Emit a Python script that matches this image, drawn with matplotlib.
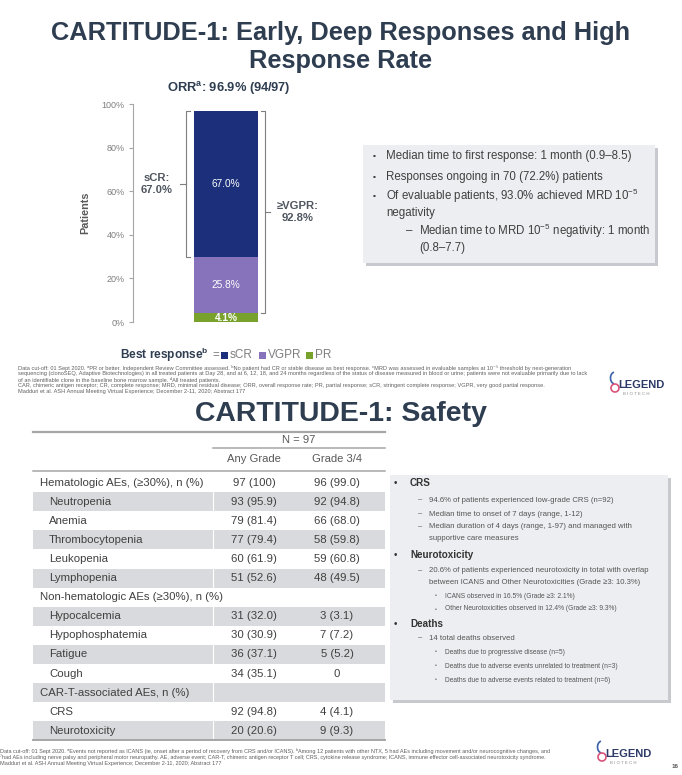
import matplotlib
matplotlib.use("Agg")
import matplotlib.pyplot as plt
from matplotlib.patches import Rectangle, Arc

plt.rcParams['font.family'] = ['Liberation Sans', 'DejaVu Sans']
plt.rcParams['mathtext.fontset'] = 'custom'
plt.rcParams['mathtext.rm'] = 'Liberation Sans'
plt.rcParams['mathtext.bf'] = 'Liberation Sans:bold'
plt.rcParams['mathtext.it'] = 'Liberation Sans:italic'

# ---------------- data ----------------
response_names = ["PR", "VGPR", "sCR"]          # stacked bottom -> top
response_pct = [4.1, 25.8, 67.0]
orr_pct = 96.9
orr_n = 94
n_total = 97
y_ticks = [0, 20, 40, 60, 80, 100]

ae_labels = ["Hematologic AEs, (≥30%), n (%)", "Neutropenia", "Anemia",
             "Thrombocytopenia", "Leukopenia", "Lymphopenia",
             "Non-hematologic AEs (≥30%), n (%)", "Hypocalcemia",
             "Hypophosphatemia", "Fatigue", "Cough",
             "CAR-T-associated AEs, n (%)", "CRS", "Neurotoxicity"]
ae_is_group = [True, False, False, False, False, False, True, False, False,
               False, False, True, False, False]
any_n = [97, 93, 79, 77, 60, 51, None, 31, 30, 36, 34, None, 92, 20]
any_pct = [100, 95.9, 81.4, 79.4, 61.9, 52.6, None, 32.0, 30.9, 37.1, 35.1, None, 94.8, 20.6]
g34_n = [96, 92, 66, 58, 59, 48, None, 3, 7, 5, 0, None, 4, 9]
g34_pct = [99.0, 94.8, 68.0, 59.8, 60.8, 49.5, None, 3.1, 7.2, 5.2, None, None, 4.1, 9.3]
col_headers = ["Any Grade", "Grade 3/4"]

# ---------------- styles ----------------
seg_colors = {"sCR": "#1b2f7b", "VGPR": "#8673bb", "PR": "#78a22c"}
TITLE = "#2e3d50"
DARK = "#404040"
GRAY = "#7f7f7f"
BOXF = "#eceef1"
SHADE = "#d9dadd"

fig = plt.figure(figsize=(6.82, 7.75), dpi=100)
bg = fig.add_axes([0, 0, 1, 1])
bg.set_xlim(0, 682)
bg.set_ylim(775, 0)
bg.axis('off')

def T(x, y, s, **kw):
    kw.setdefault('va', 'center')
    kw.setdefault('color', DARK)
    return bg.text(x, y, s, **kw)

# ---------------- slide 1 ----------------
T(341, 33, "CARTITUDE-1: Early, Deep Responses and High", ha='center',
  fontsize=18.3, fontweight='bold', color=TITLE)
T(341, 61, "Response Rate", ha='center', fontsize=18.3, fontweight='bold', color=TITLE)
T(229, 89, r"ORR$^{\mathbf{a}}$: " + f"{orr_pct:.1f}% ({orr_n}/{n_total})",
  ha='center', fontsize=9.3, fontweight='bold', color=TITLE)
T(85, 213, "Patients", ha='center', rotation=90, fontsize=7.8,
  fontweight='bold', color="#595959")

ax = fig.add_axes([133 / 682, 1 - 322 / 775, 187 / 682, 218 / 775])
ax.patch.set_alpha(0)
ax.set_xlim(0, 1)
ax.set_ylim(0, 100)
for s in ['top', 'right', 'bottom']:
    ax.spines[s].set_visible(False)
ax.spines['left'].set_color('#a6a6a6')
ax.spines['left'].set_linewidth(0.8)
ax.set_xticks([])
ax.set_yticks(y_ticks)
ax.set_yticklabels([f"{t}%" for t in y_ticks])
ax.tick_params(axis='y', direction='out', length=3, width=0.8, color='#a6a6a6',
               labelcolor=GRAY, labelsize=6.5, pad=3)

bar_x, bar_w = 0.497, 0.342
bottom = 0.0
bounds = {}
for name, v in zip(response_names, response_pct):
    ax.bar(bar_x, v, width=bar_w, bottom=bottom, color=seg_colors[name], linewidth=0)
    ax.text(bar_x, bottom + v / 2, f"{v:.1f}%", ha='center', va='center',
            color='white', fontsize=7.3, fontweight='bold' if name == "PR" else 'normal')
    bounds[name] = (bottom, bottom + v)
    bottom += v
top = bottom
bc = '#7f7f7f'
# left bracket (sCR)
lb, lt = bounds["sCR"]
xl = 0.282
ax.plot([0.303, xl, xl, 0.303], [lt, lt, lb, lb], color=bc, lw=0.8, clip_on=False)
ax.plot([xl, 0.250], [(lt + lb) / 2] * 2, color=bc, lw=0.8, clip_on=False)
ax.text(0.128, (lt + lb) / 2, f"sCR:\n{bounds['sCR'][1]-bounds['sCR'][0]:.1f}%",
        ha='center', va='center', fontsize=8.1, fontweight='bold', color="#4f5660",
        linespacing=1.25)
# right bracket (>=VGPR)
rb, rt = bounds["VGPR"][0], top
xr = 0.706
ax.plot([0.684, xr, xr, 0.684], [rt, rt, rb, rb], color=bc, lw=0.8, clip_on=False)
ax.plot([xr, 0.733], [(rt + rb) / 2] * 2, color=bc, lw=0.8, clip_on=False)
vg = response_pct[1] + response_pct[2]
ax.text(0.882, (rt + rb) / 2, f"≥VGPR:\n{vg:.1f}%", ha='center', va='center',
        fontsize=8.1, fontweight='bold', color="#4f5660", linespacing=1.25)

# legend line
ly = 355
T(120, ly, r"Best response$^{\mathbf{b}}$", fontsize=8.6, fontweight='bold', color=TITLE)
T(212, ly, "=", fontsize=8.3, color=GRAY)
lx = 221
for name in ["sCR", "VGPR", "PR"]:
    bg.add_patch(Rectangle((lx, ly - 3.5), 7, 7, color=seg_colors[name], lw=0))
    T(lx + 9, ly, name, fontsize=8.5, color=GRAY)
    lx += 9 + {"sCR": 29, "VGPR": 38, "PR": 20}[name]

# info box 1
bg.add_patch(Rectangle((366, 148), 292, 118, color='#b9bcc2', lw=0, alpha=0.8))
bg.add_patch(Rectangle((363, 145), 292, 118, color=BOXF, lw=0))
bs = 8.3
for yy in (156, 177, 196):
    T(373, yy, "▪", fontsize=6, color=DARK)
T(386, 156, "Median time to first response: 1 month (0.9–8.5)", fontsize=bs)
T(386, 177, "Responses ongoing in 70 (72.2%) patients", fontsize=bs)
T(386, 196, r"Of evaluable patients, 93.0% achieved MRD 10$^{-5}$", fontsize=bs)
T(386, 213, "negativity", fontsize=bs)
T(406, 231, "–", fontsize=bs)
T(419, 231, r"Median time to MRD 10$^{-5}$ negativity: 1 month", fontsize=bs)
T(419, 248, "(0.8–7.7)", fontsize=bs)

fn1 = ["Data cut-off: 01 Sept 2020. ᵃPR or better. Independent Review Committee assessed. ᵇNo patient had CR or stable disease as best response. ᶜMRD was assessed in evaluable samples at 10⁻⁵ threshold by next-generation",
       "sequencing (clonoSEQ, Adaptive Biotechnologies) in all treated patients at Day 28, and at 6, 12, 18, and 24 months regardless of the status of disease measured in blood or urine; patients were not evaluable primarily due to lack",
       "of an identifiable clone in the baseline bone marrow sample. ᵈAll treated patients.",
       "CAR, chimeric antigen receptor; CR, complete response; MRD, minimal residual disease; ORR, overall response rate; PR, partial response; sCR, stringent complete response; VGPR, very good partial response.",
       "Madduri et al. ASH Annual Meeting Virtual Experience; December 2-11, 2020; Abstract 177"]
for i, line in enumerate(fn1):
    T(18, 368 + 6 * i, line, fontsize=4.1, color='#606060')

def logo(x, y):
    bg.add_patch(Arc((x + 5, y - 6), 9, 12, theta1=100, theta2=260, color='#3b5fa8', lw=1.2))
    bg.add_patch(Arc((x + 5, y + 4), 8, 8, theta1=0, theta2=360, color='#d9537a', lw=1.2))
    T(x + 8, y + 1, "LEGEND", fontsize=8, fontweight='bold', color='#2b3a67')
    T(x + 13, y + 10, "B I O T E C H", fontsize=3.2, color='#8a8a8a')

logo(610, 384)

# ---------------- slide 2 ----------------
T(341, 414, "CARTITUDE-1: Safety", ha='center', fontsize=20.4, fontweight='bold', color=TITLE)

tx0, tx1 = 33, 385
c1, c2 = 254, 337
bg.plot([tx0, tx1], [432, 432], color='#a6a6a6', lw=1.6)
T((213 + tx1) / 2, 440, f"N = {n_total}", ha='center', fontsize=8.1, color='#595959')
bg.plot([213, tx1], [447.5, 447.5], color='#a6a6a6', lw=1.1)
T(c1, 459, col_headers[0], ha='center', fontsize=8.1, color='#595959')
T(c2, 459, col_headers[1], ha='center', fontsize=8.1, color='#595959')
bg.plot([tx0, tx1], [471, 471], color='#a6a6a6', lw=1.1)

def fmt(n, p):
    if n is None:
        return ""
    if p is None:
        return f"{n}"
    ps = "100" if p == 100 else f"{p:.1f}"
    return f"{n} ({ps})"

row_top, row_h = 473.0, 19.1
for i, lab in enumerate(ae_labels):
    yt = row_top + i * row_h
    yc = yt + row_h / 2
    if i % 2 == 1:
        bg.add_patch(Rectangle((tx0, yt), tx1 - tx0, row_h, color=SHADE, lw=0))
        bg.plot([213, 213], [yt, yt + row_h], color='white', lw=0.8)
    T(40 if ae_is_group[i] else 49, yc, lab, fontsize=8.2, color=DARK)
    T(c1, yc, fmt(any_n[i], any_pct[i]), ha='center', fontsize=8.2, color=DARK)
    T(c2, yc, fmt(g34_n[i], g34_pct[i]), ha='center', fontsize=8.2, color=DARK)
yb = row_top + len(ae_labels) * row_h
bg.plot([tx0, tx1], [yb, yb], color='#a6a6a6', lw=1.4)

# info box 2
bg.add_patch(Rectangle((393, 478), 278, 225, color='#b9bcc2', lw=0, alpha=0.8))
bg.add_patch(Rectangle((390, 475), 278, 225, color=BOXF, lw=0))
hs, ss, s3 = 7.1, 5.6, 4.75
H = "#333333"
S = "#555555"
def head(y, s):
    T(394, y, "•", fontsize=hs, color=H)
    T(410, y, s, fontsize=hs, fontweight='bold', color=H)
def sub(y, s, dash=True):
    if dash:
        T(418, y, "–", fontsize=ss, color=S)
    T(429, y, s, fontsize=ss, color=S)
def sub2(y, s):
    T(435, y, "•", fontsize=3.5, color=S)
    T(445, y, s, fontsize=s3, color=S)

head(483, "CRS")
sub(500, "94.6% of patients experienced low-grade CRS (n=92)")
sub(514, "Median time to onset of 7 days (range, 1-12)")
sub(527, "Median duration of 4 days (range, 1-97) and managed with")
sub(539, "supportive care measures", dash=False)
head(555, "Neurotoxicity")
sub(571, "20.6% of patients experienced neurotoxicity in total with overlap")
sub(583, "between ICANS and Other Neurotoxicities (Grade ≥3: 10.3%)", dash=False)
sub2(596, "ICANS observed in 16.5% (Grade ≥3: 2.1%)")
sub2(609, "Other Neurotoxicities observed in 12.4% (Grade ≥3: 9.3%)")
head(624, "Deaths")
sub(638, "14 total deaths observed")
sub2(652, "Deaths due to progressive disease (n=5)")
sub2(666, "Deaths due to adverse events unrelated to treatment (n=3)")
sub2(680, "Deaths due to adverse events related to treatment (n=6)")

fn2 = ["Data cut-off: 01 Sept 2020. ᵃEvents not reported as ICANS (ie, onset after a period of recovery from CRS and/or ICANS). ᵇAmong 12 patients with other NTX, 5 had AEs including movement and/or neurocognitive changes, and",
       "⁷had AEs including nerve palsy and peripheral motor neuropathy. AE, adverse event; CAR-T, chimeric antigen receptor T cell; CRS, cytokine release syndrome; ICANS, immune effector cell-associated neurotoxicity syndrome.",
       "Madduri et al. ASH Annual Meeting Virtual Experience; December 2-11, 2020; Abstract 177"]
for i, line in enumerate(fn2):
    T(0, 751 + 6 * i, line, fontsize=4.0, color='#606060')

logo(597, 753)
T(672, 766, "16", fontsize=4.5, fontweight='bold', color='#555555')

fig.savefig("out.png", dpi=100)
